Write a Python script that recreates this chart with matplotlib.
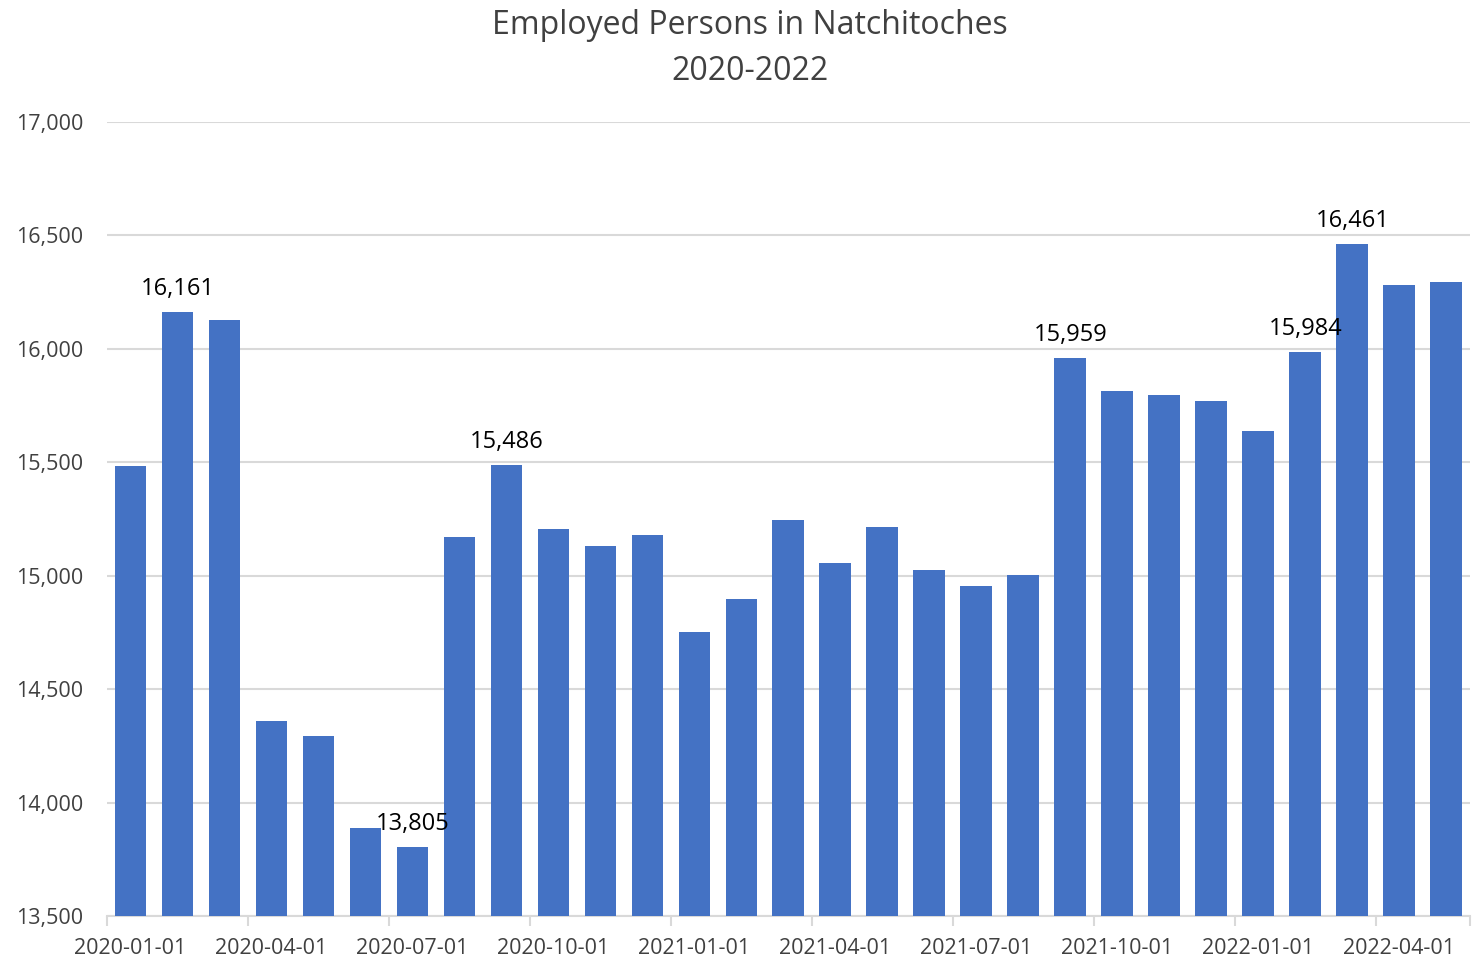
import matplotlib.pyplot as plt
from matplotlib.ticker import FuncFormatter

plt.rcParams["font.family"] = ["Open Sans", "DejaVu Sans"]

months = [
    "2020-01-01", "2020-02-01", "2020-03-01", "2020-04-01", "2020-05-01",
    "2020-06-01", "2020-07-01", "2020-08-01", "2020-09-01", "2020-10-01",
    "2020-11-01", "2020-12-01", "2021-01-01", "2021-02-01", "2021-03-01",
    "2021-04-01", "2021-05-01", "2021-06-01", "2021-07-01", "2021-08-01",
    "2021-09-01", "2021-10-01", "2021-11-01", "2021-12-01", "2022-01-01",
    "2022-02-01", "2022-03-01", "2022-04-01", "2022-05-01",
]
employed = [
    15484, 16161, 16127, 14360, 14293, 13888, 13805, 15171, 15486, 15206,
    15131, 15179, 14752, 14897, 15246, 15056, 15215, 15025, 14955, 15003,
    15959, 15814, 15797, 15770, 15638, 15984, 16461, 16281, 16295,
]
labelled = [1, 6, 8, 20, 25, 26]

fig = plt.figure(figsize=(14.76, 9.58), dpi=100)
ax = fig.add_axes([0.0725, 0.0438, 0.9234, 0.8289])

x = list(range(len(months)))
ax.bar(x, employed, width=0.68, color="#4472c4", zorder=3)

for i in labelled:
    ax.annotate(f"{employed[i]:,}", (x[i], employed[i]), xytext=(0, 8),
                textcoords="offset points", ha="center", va="bottom",
                fontsize=17, color="black", zorder=4)

ax.set_ylim(13500, 17000)
ax.set_xlim(-0.5, len(months) - 0.5)
ax.set_yticks(range(13500, 17001, 500))
ax.yaxis.set_major_formatter(FuncFormatter(lambda v, p: f"{int(v):,}"))
ax.grid(axis="y", color="#d9d9d9", linewidth=1.5, zorder=0)

ax.set_xticks(x[::3])
ax.set_xticklabels(months[::3])
ax.set_xticks([i - 0.5 for i in x[::3]] + [len(months) - 0.5], minor=True)
ax.tick_params(axis="x", which="major", length=0, pad=16, labelsize=15.5,
               labelcolor="#404040")
ax.tick_params(axis="x", which="minor", length=7, width=1.5, color="#d9d9d9")
ax.tick_params(axis="y", length=0, pad=17, labelsize=15.5, labelcolor="#404040")

for side in ["top", "right", "left"]:
    ax.spines[side].set_visible(False)
ax.spines["bottom"].set_color("#d9d9d9")
ax.spines["bottom"].set_linewidth(1.5)

fig.text(0.508, 0.991, "Employed Persons in Natchitoches\n2020-2022",
         ha="center", va="top", fontsize=23, color="#404040",
         linespacing=1.55)

fig.savefig("out.png")
